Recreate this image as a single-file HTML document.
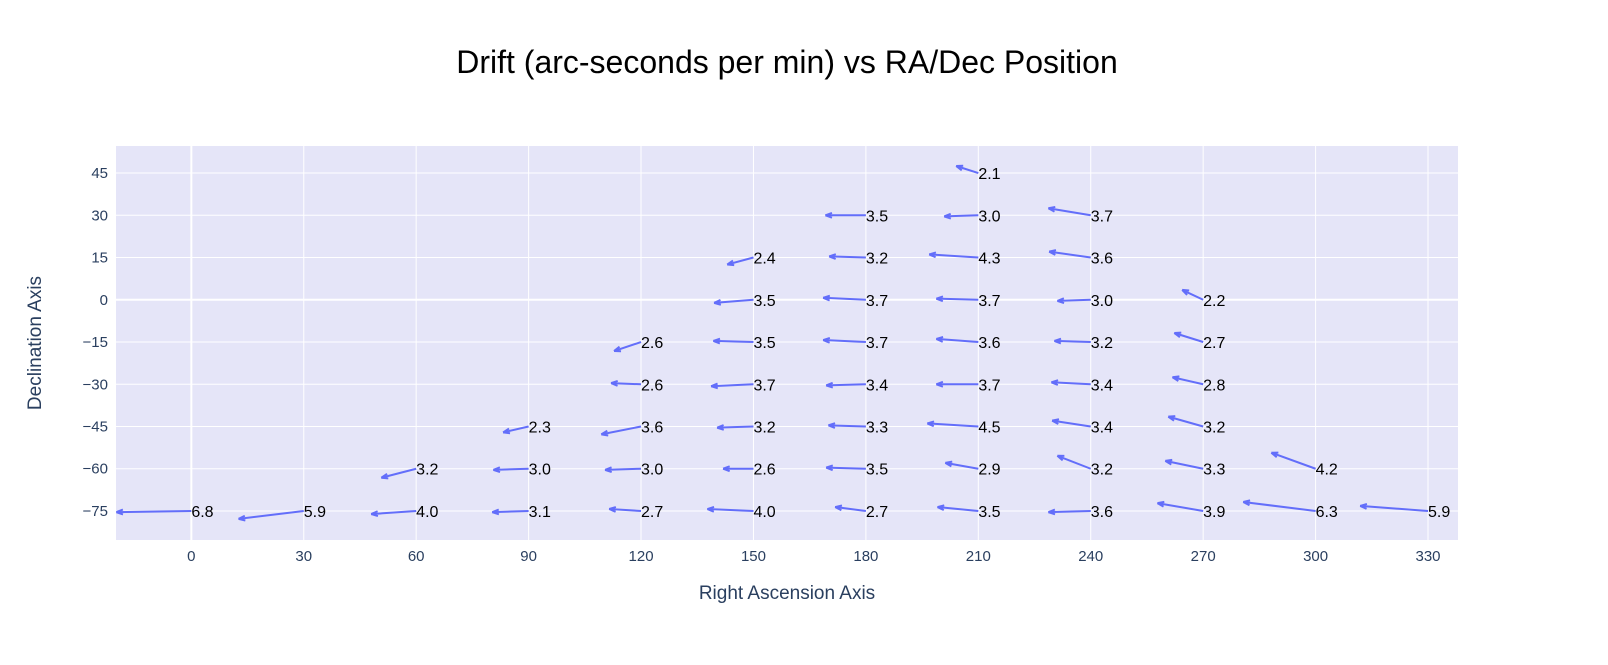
<!DOCTYPE html>
<html><head><meta charset="utf-8"><style>
body{margin:0;background:#fff;font-family:"Liberation Sans",sans-serif}
svg{display:block}
</style></head><body>
<svg id="chart" width="1608" height="665" xmlns="http://www.w3.org/2000/svg">
<text x="787" y="73" text-anchor="middle" font-size="32" fill="#000" font-family="Liberation Sans, sans-serif">Drift (arc-seconds per min) vs RA/Dec Position</text>
<rect x="116" y="146" width="1342" height="394" fill="#e5e5f8"/>
<g id="grid"></g>
<g id="marks"></g>
<text x="787" y="599" text-anchor="middle" font-size="19" fill="#2a3f5f">Right Ascension Axis</text>
<text transform="translate(41,343) rotate(-90)" text-anchor="middle" font-size="19" fill="#2a3f5f">Declination Axis</text>
</svg>
<script>
const xTicks=[0,30,60,90,120,150,180,210,240,270,300,330];
const yTicks=[45,30,15,0,-15,-30,-45,-60,-75];
const ra=[210,180,210,240,150,180,210,240,150,180,210,240,270,120,150,180,210,240,270,120,150,180,210,240,270,90,120,150,180,210,240,270,60,90,120,150,180,210,240,270,300,0,30,60,90,120,150,180,210,240,270,300,330];
const dec=[45,30,30,30,15,15,15,15,0,0,0,0,0,-15,-15,-15,-15,-15,-15,-30,-30,-30,-30,-30,-30,-45,-45,-45,-45,-45,-45,-45,-60,-60,-60,-60,-60,-60,-60,-60,-60,-75,-75,-75,-75,-75,-75,-75,-75,-75,-75,-75,-75];
const labels=["2.1","3.5","3.0","3.7","2.4","3.2","4.3","3.6","3.5","3.7","3.7","3.0","2.2","2.6","3.5","3.7","3.6","3.2","2.7","2.6","3.7","3.4","3.7","3.4","2.8","2.3","3.6","3.2","3.3","4.5","3.4","3.2","3.2","3.0","3.0","2.6","3.5","2.9","3.2","3.3","4.2","6.8","5.9","4.0","3.1","2.7","4.0","2.7","3.5","3.6","3.9","6.3","5.9"];
const dRA=[-5.9,-10.8,-9.1,-11.3,-7.0,-9.8,-13.1,-11.1,-10.5,-11.4,-11.2,-8.9,-5.6,-7.2,-10.7,-11.4,-11.2,-9.7,-7.7,-8.0,-11.3,-10.6,-11.2,-10.5,-8.2,-6.8,-10.6,-9.7,-10.0,-13.6,-10.3,-9.3,-9.3,-9.4,-9.6,-8.1,-10.6,-8.8,-8.9,-10.1,-11.8,-20.0,-17.4,-12.0,-9.7,-8.5,-12.3,-8.2,-10.9,-11.3,-12.2,-19.3,-18.1];
const dDec=[2.5,0,-0.4,2.5,-2.5,0.4,1.1,2.1,-1.1,0.7,0.4,-0.4,3.5,-3.2,0.4,0.7,1.1,0.4,3.2,0.4,-0.7,-0.4,0,0.7,2.5,-2.1,-2.8,-0.4,0.4,1.1,2.1,3.5,-3.2,-0.4,-0.4,0,0.4,2.1,4.6,2.8,5.7,-0.4,-2.8,-1.1,-0.4,0.7,0.7,1.4,1.4,-0.4,2.8,3.2,1.8];
const X0=116,X1=1458,Y0=146,Y1=540,xmin=-20.1,xmax=338,ymin=-85.3,ymax=54.6;
const sx=v=>X0+(v-xmin)/(xmax-xmin)*(X1-X0);
const sy=v=>Y1-(v-ymin)/(ymax-ymin)*(Y1-Y0);
const NS="http://www.w3.org/2000/svg";
const svg=document.getElementById('chart'),grid=document.getElementById('grid'),marks=document.getElementById('marks');
function mk(tag,a,p){const e=document.createElementNS(NS,tag);for(const k in a)e.setAttribute(k,a[k]);p.appendChild(e);return e;}
xTicks.forEach(t=>{
  const l=mk('line',{x1:sx(t),x2:sx(t),y1:Y0,y2:Y1,stroke:'#fff','stroke-width':t===0?2:1},grid);
  
  
  const tx=mk('text',{x:sx(t),y:Y1+21,'text-anchor':'middle','font-size':15,fill:'#2a3f5f'},svg);
  tx.textContent=t;
  
  
});
yTicks.forEach(t=>{
  const l=mk('line',{x1:X0,x2:X1,y1:sy(t),y2:sy(t),stroke:'#fff','stroke-width':t===0?2:1},grid);
  
  
  const tx=mk('text',{x:X0-8,y:sy(t)+5,'text-anchor':'end','font-size':15,fill:'#2a3f5f'},svg);
  tx.textContent=t===0?'0':(t<0?'\u2212'+(-t):t);
  
  
});
for(let i=0;i<ra.length;i++){
  const x1=sx(ra[i]),y1=sy(dec[i]);
  const x2=Math.max(X0,sx(ra[i]+dRA[i])),y2=sy(dec[i]+dDec[i]);
  const g=mk('g',{},marks);
  
  
  mk('line',{x1:x1,y1:y1,x2:x2,y2:y2,stroke:'#636efa','stroke-width':2},g);
  const ang=Math.atan2(y2-y1,x2-x1),h=7;
  [0.35,-0.35].forEach(d=>{
    mk('line',{x1:x2,y1:y2,x2:x2-h*Math.cos(ang+d),y2:y2-h*Math.sin(ang+d),stroke:'#636efa','stroke-width':2},g);
  });
  const tx=mk('text',{x:x1,y:y1+6,'font-size':16,fill:'#000'},marks);
  tx.textContent=labels[i];
  
  
}
</script>
</body></html>
